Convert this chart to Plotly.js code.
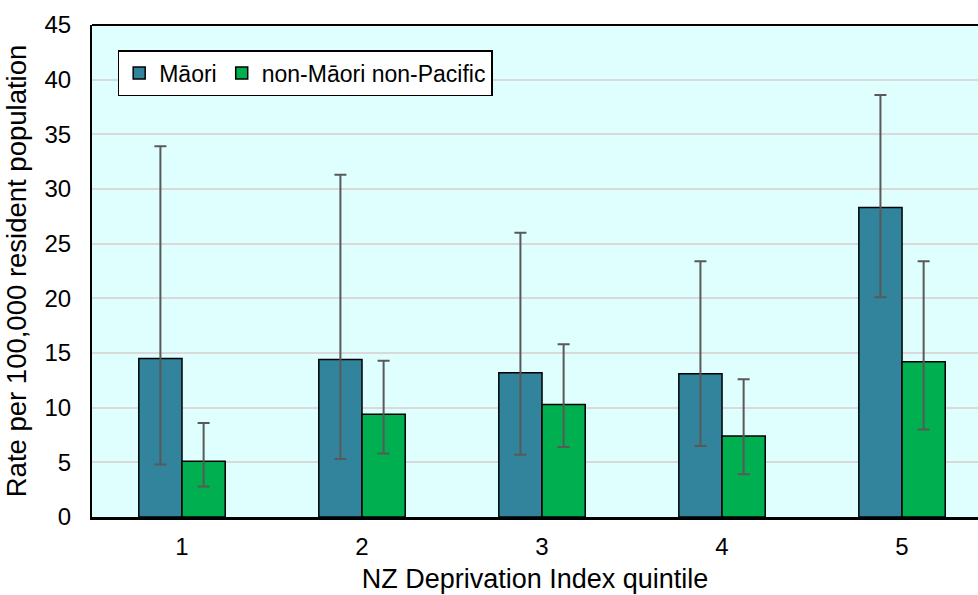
<!DOCTYPE html>
<html>
<head>
<meta charset="utf-8">
<script src="https://cdn.plot.ly/plotly-3.0.1.min.js"></script>
<style>html,body{margin:0;padding:0;background:#fff}#chart{width:978px;height:595px}</style>
</head>
<body>
<div id="chart"></div>
<script>
const quintiles = ['1', '2', '3', '4', '5'];
const maoriRate = [14.5, 14.4, 13.2, 13.1, 28.3];
const maoriLower = [4.8, 5.3, 5.7, 6.5, 20.1];
const maoriUpper = [33.9, 31.3, 26.0, 23.4, 38.6];
const nonMaoriRate = [5.1, 9.4, 10.3, 7.4, 14.2];
const nonMaoriLower = [2.8, 5.8, 6.4, 3.9, 8.0];
const nonMaoriUpper = [8.6, 14.3, 15.8, 12.6, 23.4];
const seriesNames = ['Māori', 'non-Māori non-Pacific'];

const xPos = quintiles.map(q => Number(q));
const diff = (a, b) => a.map((v, i) => v - b[i]);

const errStyle = {color: '#595959', thickness: 2, width: 6};

const traces = [
  {
    type: 'bar', name: seriesNames[0], x: xPos, y: maoriRate,
    marker: {color: '#31849B', line: {color: '#000', width: 1.5}},
    error_y: Object.assign({type: 'data', symmetric: false,
      array: diff(maoriUpper, maoriRate), arrayminus: diff(maoriRate, maoriLower)}, errStyle)
  },
  {
    type: 'bar', name: seriesNames[1], x: xPos, y: nonMaoriRate,
    marker: {color: '#00B050', line: {color: '#000', width: 1.5}},
    error_y: Object.assign({type: 'data', symmetric: false,
      array: diff(nonMaoriUpper, nonMaoriRate), arrayminus: diff(nonMaoriRate, nonMaoriLower)}, errStyle)
  }
];

const fam = 'Liberation Sans, Arial, sans-serif';

const layout = {
  width: 978, height: 595,
  margin: {l: 92, r: 0, t: 25, b: 78},
  paper_bgcolor: '#fff',
  plot_bgcolor: '#DFFFFF',
  font: {family: fam, size: 24, color: '#000'},
  barmode: 'group',
  bargap: 0.52,
  bargroupgap: 0,
  showlegend: true,
  legend: {
    orientation: 'h', x: 0.029, y: 0.949, xanchor: 'left', yanchor: 'top',
    bgcolor: '#fff', bordercolor: '#000', borderwidth: 1.5,
    font: {family: fam, size: 23, color: '#000'},
    itemwidth: 30, tracegroupgap: 0
  },
  xaxis: {
    range: [0.5, 5.422], tickvals: xPos, ticktext: quintiles,
    showgrid: false, zeroline: false,
    showline: true, linecolor: '#000', linewidth: 2.5,
    ticks: '', ticklen: 0, ticklabelstandoff: 7,
    tickfont: {family: fam, size: 24, color: '#000'},
    title: {text: 'NZ Deprivation Index quintile', font: {family: fam, size: 27, color: '#000'}, standoff: 10}
  },
  yaxis: {
    range: [0, 45], dtick: 5, tick0: 0,
    showgrid: true, gridcolor: '#D9D9D9', gridwidth: 2,
    zeroline: false,
    showline: true, linecolor: '#000', linewidth: 2,
    ticks: '', ticklabelstandoff: 14,
    tickfont: {family: fam, size: 24, color: '#000'},
    title: {text: 'Rate per 100,000 resident population', font: {family: fam, size: 27.5, color: '#000'}, standoff: 10}
  },
  shapes: [
    {type: 'line', xref: 'paper', yref: 'paper', x0: 0, x1: 1, y0: 1, y1: 1, line: {color: '#000', width: 2}}
  ]
};

Plotly.newPlot('chart', traces, layout, {displayModeBar: false, staticPlot: true});
</script>
</body>
</html>
